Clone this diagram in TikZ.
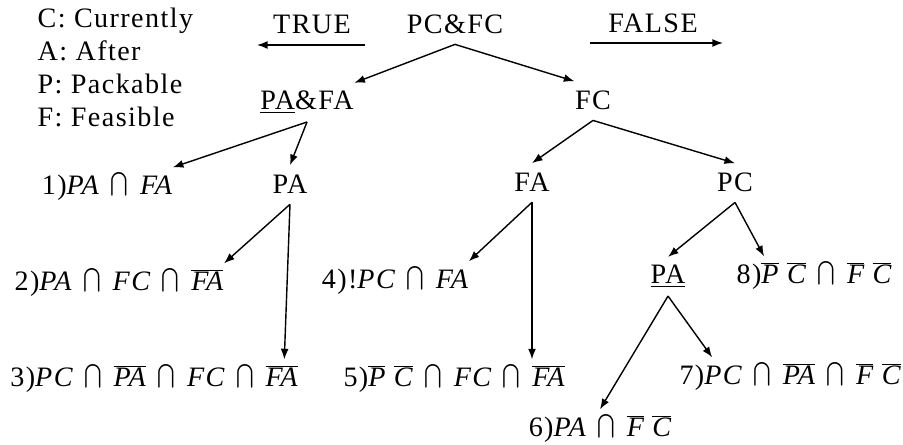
\documentclass[tikz,border=0pt]{standalone}
\usepackage{fontspec}
\setmainfont{Liberation Serif}[LetterSpace=5]
\usetikzlibrary{arrows.meta}

\newcommand{\myv}[1]{\textit{#1}}
\newcommand{\ov}[1]{\overline{\textit{#1}}}
\newcommand{\ic}{\,\mathbin{\scalebox{1.2}[1.35]{$\bigcap$}}\,}

\begin{document}
\begin{tikzpicture}[> = {Latex[length = 6pt, width = 4.5pt]}, x = 0.02cm, y = -0.02cm,
	line width = 0.8pt, font = \fontsize{16}{19}\selectfont,
	tnode/.style = {anchor = base, inner sep = 0pt, minimum height = 21.5pt},
	legend/.style = {anchor = base west, inner sep = 0pt}]

	\useasboundingbox (0, 0) rectangle (903, 445);

	% Legend

	\node [legend] (legC) at (37, 28) {C: Currently};
	\node [legend] (legA) at (37, 61) {A: After};
	\node [legend] (legP) at (37, 94) {P: Packable};
	\node [legend] (legF) at (37, 127) {F: Feasible};

	% Branch directions

	\node [tnode] (true) at (312, 34) {TRUE};
	\node [tnode] (false) at (653, 33) {FALSE};
	\coordinate (trueR) at (365, 45);
	\coordinate (trueL) at (257, 45);
	\coordinate (falseL) at (590, 43);
	\coordinate (falseR) at (723, 43);
	\draw [->] (trueR) -- (trueL);
	\draw [->] (falseL) -- (falseR);

	% Tree

	\node [tnode] (pcfc) at (455, 34) {PC\&FC};
	\node [tnode] (pafa) at (307, 110) {\underline{PA}\&FA};
	\node [tnode] (fc) at (593, 110) {FC};
	\node [tnode] (pa1) at (290, 194) {PA};
	\node [tnode] (fa) at (532, 192) {FA};
	\node [tnode] (pc) at (735, 192) {PC};
	\node [tnode] (pa2) at (668, 284) {\underline{PA}};

	% Results

	\node [tnode] (n1) at (107, 195) {1)$\myv{PA}\ic\myv{FA}$};
	\node [tnode] (n2) at (119, 291) {2)$\myv{PA}\ic\myv{FC}\ic\ov{FA}$};
	\node [tnode] (n3) at (154, 387) {3)$\myv{PC}\ic\ov{PA}\ic\myv{FC}\ic\ov{FA}$};
	\node [tnode] (n4) at (395, 289) {4)!$\myv{PC}\ic\myv{FA}$};
	\node [tnode] (n5) at (454, 387) {5)$\ov{P}\;\ov{C}\ic\myv{FC}\ic\ov{FA}$};
	\node [tnode] (n6) at (600, 437) {6)$\myv{PA}\ic\ov{F}\;\ov{C}$};
	\node [tnode] (n7) at (790, 385) {7)$\myv{PC}\ic\ov{PA}\ic\ov{F}\;\ov{C}$};
	\node [tnode] (n8) at (814, 284) {8)$\ov{P}\;\ov{C}\ic\ov{F}\;\ov{C}$};

	% Arrows

	\draw [->] (pcfc.south) -- (pafa.north east);
	\draw [->] (pcfc.south) -- (fc.north west);
	\draw [->] (pafa.south) -- (n1.north east);
	\draw [->] (pafa.south) -- (pa1.north);
	\draw [->] (fc.south) -- (fa.north);
	\draw [->] (fc.south) -- (pc.north);
	\draw [->] (pa1.south) -- (n2.north east);
	\draw [->] (pa1.south) -- ([xshift = -8pt] n3.north east);
	\draw [->] (fa.south) -- (n4.north east);
	\draw [->] (fa.south) -- (fa.south |- n5.north);
	\draw [->] (pc.south) -- (pa2.north);
	\draw [->] (pc.south) -- ([xshift = 16pt] n8.north west);
	\draw [->] (pa2.south) -- (n6.north);
	\draw [->] (pa2.south) -- ([xshift = 19pt] n7.north west);

\end{tikzpicture}
\end{document}
